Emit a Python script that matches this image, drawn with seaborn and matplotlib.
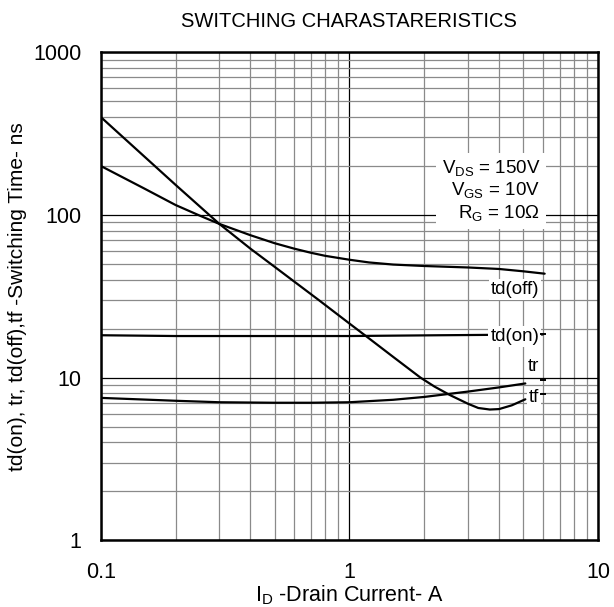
"""Switching characteristics chart (td(on), tr, td(off), tf vs drain current)."""

import matplotlib
import pandas as pd
import seaborn as sns
from matplotlib.ticker import FixedLocator, LogLocator, NullFormatter

matplotlib.use("Agg")
import matplotlib.pyplot as plt

# curve data (ID in A, times in ns)
id_td_off = [0.1, 0.15, 0.2, 0.25, 0.3, 0.4, 0.5, 0.6, 0.7, 0.8, 1.0, 1.2, 1.5, 2.0, 3.0,
             4.0, 5.0, 6.1]
t_td_off = [200, 145, 115, 99, 88, 75, 67, 62, 58.5, 56, 53, 51, 49.5, 48.5, 47.5,
            46.5, 45, 43.5]

id_td_on = [0.1, 0.2, 0.5, 1.0, 2.3, 6.0]
t_td_on = [18.2, 18.0, 18.0, 18.0, 18.2, 18.4]

id_tr = [0.1, 0.2, 0.3, 0.5, 0.7, 1.0, 1.5, 2.0, 3.0, 4.0, 5.1]
t_tr = [7.5, 7.2, 7.05, 7.0, 7.0, 7.05, 7.3, 7.6, 8.2, 8.7, 9.2]

id_tf = [0.1, 0.2, 0.3, 0.4, 0.5, 0.75, 1.0, 1.2, 1.5, 1.93, 2.2, 2.54, 3.0, 3.3, 3.67,
         4.0, 4.5, 5.1]
t_tf = [400, 153, 88, 62, 48, 30.1, 21.5, 17.4, 13.4, 10, 8.8, 7.8, 6.9, 6.5, 6.36,
        6.4, 6.75, 7.35]

# curve labels with their leader ticks at the right end
label_names = ["td(off)", "td(on)", "tr", "tf"]
label_y = [34.7, 17.8, 11.7, 7.5]
tick_y = [None, 18.6, 9.7, 7.9]

conditions = [r"V$_{\mathregular{DS}}$ = 150V",
              r"V$_{\mathregular{GS}}$ = 10V",
              r"R$_{\mathregular{G}}$ = 10$\mathregular{\Omega}$"]

x_ticks = [0.1, 1, 10]
x_tick_labels = ["0.1", "1", "10"]
y_ticks = [1, 10, 100, 1000]
y_tick_labels = ["1", "10", "100", "1000"]

frames = []
for name, xs, ys in [("td(off)", id_td_off, t_td_off), ("td(on)", id_td_on, t_td_on),
                     ("tr", id_tr, t_tr), ("tf", id_tf, t_tf)]:
    frames.append(pd.DataFrame({"id": xs, "t": ys, "curve": name}))
df = pd.concat(frames, ignore_index=True)

sns.set_theme(style="white")
plt.rcParams["font.family"] = ["Liberation Sans", "DejaVu Sans"]
plt.rcParams["mathtext.fontset"] = "custom"
plt.rcParams["mathtext.rm"] = "Liberation Sans"
plt.rcParams["text.color"] = "black"
plt.rcParams["axes.labelcolor"] = "black"
plt.rcParams["xtick.color"] = "black"
plt.rcParams["ytick.color"] = "black"

fig = plt.figure(figsize=(6.14, 6.07), dpi=100)
ax = fig.add_axes([0.164, 0.110, 0.810, 0.804])
ax.set_xscale("log")
ax.set_yscale("log")

sns.lineplot(data=df, x="id", y="t", units="curve", estimator=None, sort=False,
             color="black", linewidth=1.6, ax=ax, legend=False)

ax.set_xlim(0.1, 10)
ax.set_ylim(1, 1000)

# grid: dark major lines, grey minor lines
ax.xaxis.set_major_locator(FixedLocator(x_ticks))
ax.yaxis.set_major_locator(FixedLocator(y_ticks))
ax.xaxis.set_minor_locator(LogLocator(base=10, subs=range(2, 10)))
ax.yaxis.set_minor_locator(LogLocator(base=10, subs=range(2, 10)))
ax.xaxis.set_minor_formatter(NullFormatter())
ax.yaxis.set_minor_formatter(NullFormatter())
ax.grid(which="major", color="black", linewidth=0.9)
ax.grid(which="minor", color="#8a8a8a", linewidth=0.9)
ax.set_axisbelow(True)

ax.set_xticklabels(x_tick_labels, fontsize=15.5)
ax.set_yticklabels(y_tick_labels, fontsize=15.5)
ax.tick_params(axis="both", which="both", length=0, labelcolor="black")
ax.tick_params(axis="x", pad=16)
ax.tick_params(axis="y", pad=14)

for spine in ax.spines.values():
    spine.set_color("black")
    spine.set_linewidth(1.8)

# curve labels on white boxes
for name, ly, ty in zip(label_names, label_y, tick_y):
    ax.text(5.8, ly, name, ha="right", va="center", fontsize=13.5, color="black",
            bbox=dict(facecolor="white", edgecolor="none", pad=1.5), zorder=4)
    if ty is not None:
        ax.plot([6.0], [ty], marker="_", markersize=5, markeredgewidth=1.4,
                color="black", zorder=5)

ax.text(5.85, 140, "\n".join(conditions), ha="right", va="center", fontsize=13.5,
        color="black", multialignment="right", linespacing=1.15,
        bbox=dict(facecolor="white", edgecolor="none", pad=4), zorder=4)

ax.set_title("SWITCHING CHARASTARERISTICS", fontsize=14.5, pad=18, color="black")
ax.set_xlabel(r"I$_{\mathregular{D}}$ -Drain Current- A", fontsize=15.5, labelpad=0)
ax.set_ylabel("td(on), tr, td(off),tf -Switching Time- ns", fontsize=15, labelpad=4)

fig.savefig("out.png", dpi=100)
plt.close(fig)
